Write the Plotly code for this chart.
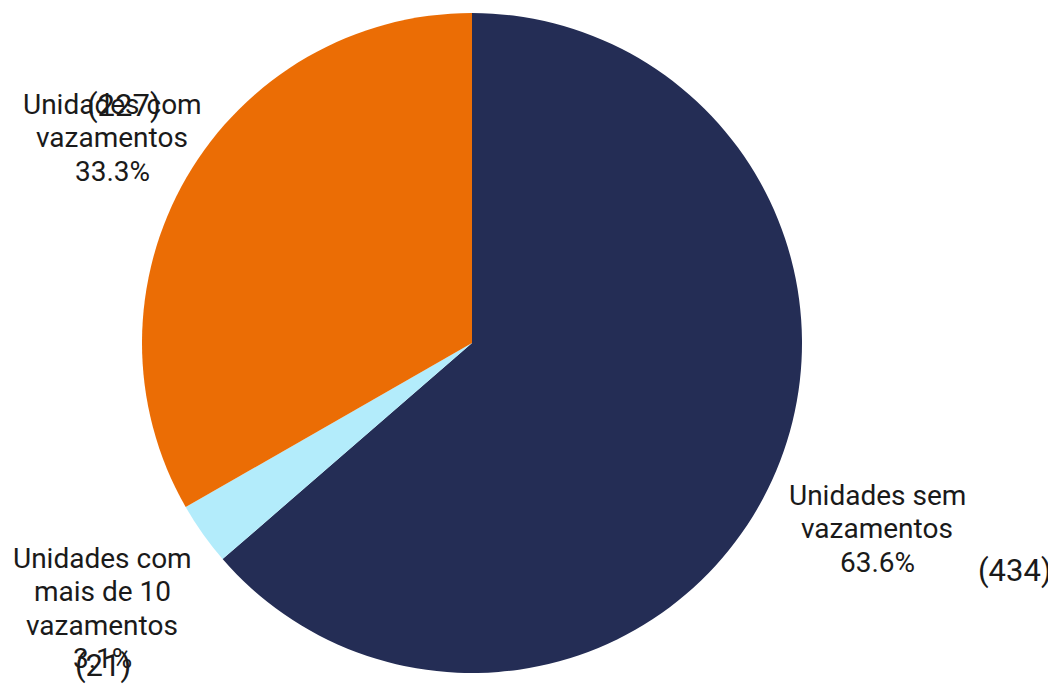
import plotly.graph_objects as go

labels = ["Unidades sem vazamentos", "Unidades com mais de 10 vazamentos", "Unidades com vazamentos"]
label_lines = [["Unidades sem", "vazamentos"], ["Unidades com", "mais de 10", "vazamentos"], ["Unidades com", "vazamentos"]]
values = [434, 21, 227]
colors = ["#242D55", "#B3ECFB", "#EB6D05"]

W, H = 1056, 686
OFF = 8  # page body margin offset (screen px)


def px(x):
    return (x - OFF) / W


def py(y):
    return 1 - (y - OFF) / H


fig = go.Figure()
fig.add_trace(go.Pie(
    labels=labels,
    values=values,
    sort=False,
    direction="clockwise",
    rotation=0,
    marker=dict(colors=colors, line=dict(width=0)),
    textinfo="none",
    hoverinfo="label+value+percent",
    showlegend=False,
    domain=dict(x=[px(142), px(802)], y=[py(673), py(13)]),
))

total = sum(values)
# label block anchors: (center x, first line center y) in screen px
label_pos = [(877, 495), (102, 558), (112, 104)]
line_gap = 33.5
for lines, v, (lx, ly) in zip(label_lines, values, label_pos):
    texts = lines + [f"{100 * v / total:.1f}%"]
    for i, t in enumerate(texts):
        fig.add_annotation(
            x=px(lx), y=py(ly + i * line_gap), xref="paper", yref="paper",
            text=t, showarrow=False,
            font=dict(family="Roboto", size=28, color="#1a1a1a"),
            xanchor="center", yanchor="middle",
        )

# count annotations
count_pos = [(1015, 570), (103, 665), (124, 106)]
for v, (cx, cy) in zip(values, count_pos):
    fig.add_annotation(
        x=px(cx), y=py(cy), xref="paper", yref="paper",
        text=f"({v})", showarrow=False,
        font=dict(family="Roboto", size=31, color="#1a1a1a"),
        xanchor="center", yanchor="middle",
    )

fig.update_layout(
    width=W, height=H,
    margin=dict(l=0, r=0, t=0, b=0),
    paper_bgcolor="white",
    plot_bgcolor="white",
)

fig.write_html("out.html")
